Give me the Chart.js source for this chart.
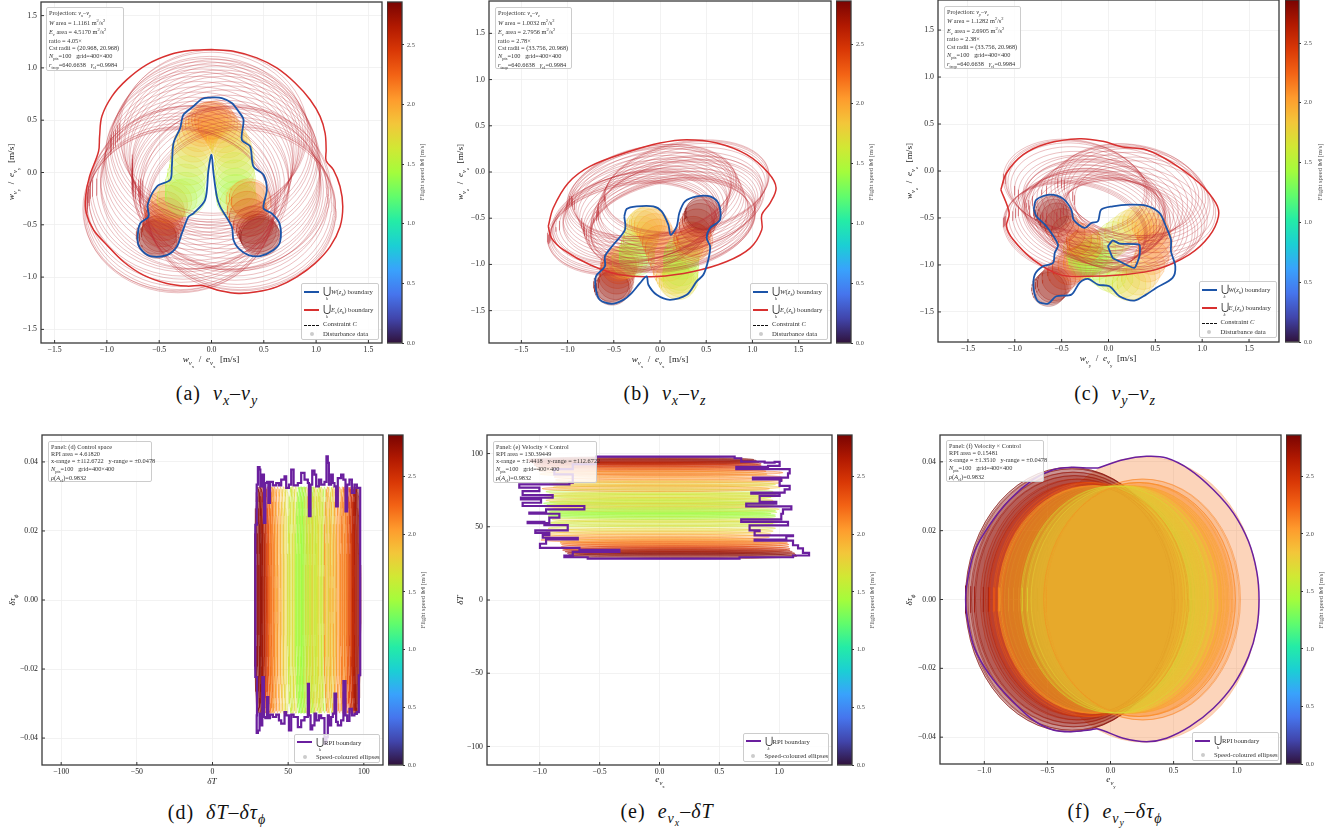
<!DOCTYPE html>
<html>
<head>
<title>Reachable sets</title>
<script src="https://cdn.jsdelivr.net/npm/chart.js"></script>
<style>
  body { margin: 0; background: #fff; font-family: "Liberation Serif", serif; color: #222; }
  canvas { position: absolute; }
  .t { position: absolute; white-space: nowrap; line-height: 1; }
  .t sub, .t sup { font-size: 72%; line-height: 0; }
  .cap { font-size: 20px; letter-spacing: 1px; color: #111; transform: translate(-50%, -50%); }
  .cap sub { font-size: 70%; }
  .ax { font-size: 9.2px; transform: translate(-50%, -50%); }
  .ay { font-size: 9.2px; transform: translate(-50%, -50%) rotate(-90deg); }
  .cb { font-size: 6.6px; color: #555; transform: translate(-50%, -50%) rotate(-90deg); }
  .box { position: absolute; background: rgba(255,255,255,.82); border: 1px solid #ccc; border-radius: 2px; box-sizing: border-box; font-size: 6.3px; color: #333; z-index: 5; }
  .box div { white-space: nowrap; position: absolute; left: 2.5px; line-height: 1; }
  .box sub, .box sup { font-size: 72%; line-height: 0; }
  .leg { font-size: 6.7px; }
  .leg .s { position: absolute; left: 2px; width: 15px; }
  .leg .d { position: absolute; left: 7.5px; width: 4px; height: 4px; border-radius: 50%; background: #ccc; }
  .leg .u { font-size: 10px; }
  .leg .k { font-size: 4.5px; }
</style>
</head>
<body>
<script>
const cx = [-.52,-.5,-.53,-.48,-.47,-.46,-.44,-.45,-.42,-.38,-.33,-.25,-.25,-.25,-.23,-.21,-.2,-.19,-.17,-.14,-.12,-.09,-.06,-.03,0,.03,.06,.09,.12,.15,.18,.2,.22,.22,.22,.23,.23,.23,.24,.27,.33,.36,.38,.34,.36,.4,.43,.45,.46,.47];
const cy = [-.64,-.62,-.6,-.58,-.53,-.47,-.42,-.36,-.3,-.27,-.25,-.24,-.18,-.1,-.02,.06,.14,.22,.28,.33,.38,.43,.46,.49,.5,.5,.46,.42,.37,.32,.27,.22,.15,.08,.01,-.06,-.14,-.2,-.26,-.3,-.26,-.24,-.27,-.36,-.43,-.5,-.55,-.58,-.6,-.62];
const cz = [-1.26,-1.24,-1.22,-1.2,-1.14,-1.08,-1.03,-1,-.98,-.97,-.96,-.94,-.9,-.84,-.78,-.72,-.66,-.6,-.57,-.55,-.55,-.58,-.63,-.69,-.76,-.83,-.92,-1,-1.08,-1.14,-1.19,-1.2,-1.17,-1.13,-1.1,-1.05,-.98,-.93,-.88,-.83,-.8,-.78,-.74,-.72,-.66,-.58,-.52,-.48,-.45,-.44];
const speed = [2.84,2.8,2.76,2.72,2.62,2.55,2.45,2.3,2.15,1.95,1.6,1.4,1.4,1.5,1.55,1.6,1.7,1.75,1.8,1.85,1.9,2,2.05,2.1,2.15,2.2,2.15,2.05,1.95,1.85,1.8,1.75,1.7,1.65,1.6,1.55,1.45,1.4,1.4,1.6,1.95,2.15,2.25,2.3,2.45,2.55,2.7,2.75,2.8,2.84];
// centres of the larger E_v ellipses
const exc = [-.32,-.31,-.33,-.3,-.29,-.29,-.27,-.28,-.26,-.24,-.2,-.16,-.16,-.16,-.14,-.13,-.12,-.12,-.11,-.09,-.07,-.06,-.04,-.02,0,.02,.04,.06,.07,.09,.11,.12,.14,.14,.14,.14,.14,.14,.15,.17,.2,.22,.24,.21,.22,.25,.27,.28,.29,.29];
const eyc = [-.37,-.36,-.35,-.34,-.31,-.27,-.24,-.21,-.17,-.15,-.14,-.14,-.1,-.06,-.01,.04,.09,.14,.18,.21,.25,.28,.31,.33,.37,.39,.3,.27,.24,.2,.17,.14,.09,.05,.01,-.04,-.09,-.12,-.15,-.17,-.15,-.14,-.16,-.21,-.25,-.29,-.32,-.34,-.35,-.37];
const ezc = [-.62,-.61,-.6,-.59,-.57,-.55,-.52,-.5,-.49,-.485,-.47,-.46,-.43,-.39,-.36,-.32,-.28,-.24,-.22,-.2,-.2,-.22,-.25,-.29,-.34,-.38,-.44,-.49,-.53,-.56,-.58,-.59,-.57,-.56,-.55,-.53,-.49,-.46,-.42,-.39,-.37,-.36,-.33,-.32,-.28,-.23,-.19,-.17,-.16,-.15];
// control and velocity-control panels
const dT = [95.8,95.2,94.6,94,93,92,91,89.5,88,86,70,59,66,74,52,79,49,72,47,68,45,64,43,76,41,87,84,82,80,77,62,55,53,71,67,60,57,58,61,65,40,39,38,36.5,35,34,33,32,31,30];
const evx = [-.16,-.14,-.14,-.12,-.1,-.1,-.08,-.08,-.06,-.05,-.02,-.02,-.02,0,0,.02,.02,.02,0,0,-.02,-.02,-.03,-.03,-.04,.08,.07,.08,.06,.06,.05,.05,.04,.04,.03,.03,.02,.02,.02,.01,.12,.12,.13,.13,.14,.14,.16,.18,.19,.2];
const evy = [-.32,-.31,-.3,-.29,-.27,-.24,-.21,-.18,-.15,-.14,-.13,-.12,-.09,-.05,-.01,.03,.07,.11,.14,.17,.19,.22,.23,.25,.26,.27,.23,.21,.19,.16,.14,.11,.08,.04,.01,-.03,-.07,-.1,-.13,-.15,-.13,-.12,-.14,-.18,-.22,-.25,-.28,-.29,-.3,-.32];
const evyRx = [.83,.83,.81,.79,.76,.75,.75,.74,.74,.74,.74,.74,.74,.74,.74,.74,.74,.74,.74,.75,.75,.75,.76,.77,.77,.905,.76,.75,.74,.74,.74,.74,.74,.74,.74,.74,.74,.74,.74,.74,.74,.74,.75,.75,.75,.76,.79,.81,.83,.83];
const evyRy = [.0384,.038,.037,.036,.035,.034,.034,.033,.033,.033,.033,.033,.033,.033,.033,.033,.033,.033,.033,.033,.033,.034,.034,.035,.035,.0415,.034,.034,.033,.033,.033,.033,.033,.033,.033,.033,.033,.033,.033,.033,.033,.033,.034,.034,.034,.035,.036,.037,.038,.0384];
// drawn last in panel f
const fTail = [43,33,24,16,8,32,41,15,26,31];

// boundaries
const wBoundA = [[0,.719],[.099,.712],[.194,.665],[.258,.585],[.306,.505],[.29,.313],[.369,.249],[.401,.058],[.497,-.022],[.529,-.166],[.497,-.342],[.576,-.39],[.65,-.486],[.656,-.661],[.592,-.741],[.465,-.799],[.354,-.789],[.258,-.725],[.21,-.645],[.194,-.518],[.083,-.326],[.051,-.23],[.019,-.006],[0,.169],[-.029,.026],[-.061,-.262],[-.172,-.39],[-.22,-.422],[-.283,-.581],[-.331,-.709],[-.427,-.789],[-.586,-.799],[-.682,-.725],[-.707,-.645],[-.682,-.486],[-.602,-.422],[-.611,-.31],[-.522,-.134],[-.395,-.07],[-.379,.058],[-.363,.281],[-.299,.425],[-.268,.553],[-.172,.633],[-.092,.703]];
const eBoundA = [[0,1.176],[.21,1.16],[.433,1.096],[.624,1],[.8,.856],[.943,.696],[1.038,.537],[1.086,.377],[1.096,.217],[1.096,.112],[1.166,.026],[1.229,-.134],[1.255,-.326],[1.229,-.518],[1.134,-.709],[.99,-.869],[.815,-.997],[.624,-1.093],[.433,-1.141],[.258,-1.157],[.083,-1.131],[-.076,-1.083],[-.236,-1.086],[-.427,-1.061],[-.65,-.981],[-.841,-.853],[-1,-.693],[-1.127,-.55],[-1.197,-.39],[-1.204,-.23],[-1.166,-.038],[-1.08,.201],[-1.07,.345],[-1.048,.537],[-.952,.728],[-.809,.888],[-.618,1.032],[-.395,1.128],[-.204,1.166]];
const wBoundB = [[-.386,-.48],[-.361,-.401],[-.253,-.372],[-.072,-.372],[.018,-.426],[.09,-.57],[.116,-.679],[.181,-.588],[.209,-.444],[.271,-.318],[.397,-.264],[.542,-.264],[.632,-.336],[.65,-.516],[.542,-.606],[.505,-.715],[.542,-.805],[.523,-.949],[.469,-1.112],[.397,-1.184],[.289,-1.329],[.108,-1.383],[-.036,-1.329],[-.126,-1.22],[-.144,-1.13],[-.217,-1.202],[-.307,-1.31],[-.397,-1.383],[-.523,-1.426],[-.65,-1.383],[-.693,-1.274],[-.693,-1.13],[-.596,-1.022],[-.596,-.913],[-.505,-.787],[-.379,-.625]];
const eBoundB = [[-1.209,-.588],[-1.155,-.39],[-.993,-.119],[-.758,.061],[-.325,.224],[0,.314],[.289,.35],[.614,.314],[.939,.188],[1.173,-.011],[1.256,-.173],[1.191,-.336],[1.101,-.462],[1.101,-.625],[.975,-.823],[.722,-.968],[.361,-1.076],[-.036,-1.13],[-.433,-1.112],[-.758,-1.004],[-1.047,-.841],[-1.173,-.715]];
const wBoundC = [[-.798,-.404],[-.77,-.305],[-.628,-.252],[-.486,-.294],[-.397,-.411],[-.372,-.518],[-.255,-.606],[-.184,-.553],[-.113,-.535],[-.078,-.411],[.046,-.376],[.223,-.358],[.401,-.369],[.543,-.447],[.613,-.589],[.667,-.73],[.667,-.855],[.713,-1.014],[.684,-1.138],[.507,-1.245],[.401,-1.316],[.277,-1.379],[.117,-1.333],[.011,-1.227],[-.113,-1.209],[-.22,-1.149],[-.309,-1.191],[-.397,-1.316],[-.557,-1.333],[-.645,-1.411],[-.752,-1.387],[-.798,-1.262],[-.787,-1.103],[-.699,-1.014],[-.592,-.979],[-.574,-.872],[-.539,-.784],[-.663,-.589],[-.77,-.482]];
const wHoleC = [[-.007,-.801],[.046,-.738],[.117,-.773],[.33,-.784],[.33,-.908],[.277,-1.032],[.117,-.961],[.046,-.926]];
const eBoundC = [[-1.149,-.199],[-1.089,-.021],[-.911,.174],[-.663,.291],[-.309,.344],[-.06,.316],[.152,.255],[.401,.227],[.684,.085],[.968,-.128],[1.145,-.34],[1.174,-.482],[1.074,-.695],[.862,-.89],[.507,-1.05],[.152,-1.103],[-.238,-1.121],[-.521,-1.103],[-.805,-.943],[-1.018,-.73],[-1.089,-.589],[-1.06,-.447]];
const rpiBoundD = [[28.3,0],[28.3,.0218],[29.4,.0223],[29.2,.0334],[30,.0385],[31.1,.0378],[31.6,.0329],[32.9,.0363],[34,.0223],[34.9,.0339],[36,.0342],[36.9,.0281],[38,.0342],[39.9,.0332],[42.1,.0339],[43.9,.0332],[45.4,.0349],[47.6,.0358],[48.7,.0325],[50.5,.0334],[52,.0378],[53.6,.0332],[56.4,.0339],[58.6,.0368],[60.8,.0349],[63,.0339],[63.7,.0243],[64.8,.0334],[65.9,.0375],[67.4,.0363],[68.5,.0329],[70.3,.0349],[71.8,.0334],[74,.0342],[75.3,.0416],[76.2,.0397],[76.9,.0334],[78.4,.0363],[79.5,.0339],[80.6,.0329],[81.7,.0271],[82.8,.0353],[85,.0363],[86.5,.0349],[87.9,.0257],[89,.0334],[90.5,.0349],[92.1,.031],[93.8,.0334],[95.4,.0325],[96.7,.0325],[97.6,.0218],[97.6,0],
  [97.6,-.0218],[96.7,-.0325],[95.4,-.033],[93.8,-.0334],[92.1,-.0315],[90.5,-.035],[89,-.0334],[87.9,-.0235],[86.5,-.0349],[85,-.0363],[82.8,-.0353],[81.7,-.0271],[80.6,-.0329],[79.5,-.0339],[78.4,-.0363],[76.9,-.0334],[76.2,-.0397],[75.3,-.0416],[74,-.0342],[71.8,-.0334],[70.3,-.0349],[68.5,-.0329],[67.4,-.0363],[65.9,-.0375],[64.8,-.0334],[63.7,-.0243],[63,-.0339],[60.8,-.0349],[58.6,-.0368],[56.4,-.0339],[53.6,-.0332],[52,-.0378],[50.5,-.0334],[48.7,-.0325],[47.6,-.0358],[45.4,-.0349],[43.9,-.0332],[42.1,-.0339],[39.9,-.0332],[38,-.0342],[36.9,-.0281],[36,-.0342],[34.9,-.0339],[34,-.0223],[32.9,-.0363],[31.6,-.0329],[31.1,-.0378],[30,-.0385],[29.2,-.0334],[29.4,-.0223],[28.3,-.0218]];
const rpiBoundE = [[.377,97.9],[.628,96.8],[.683,94.5],[.879,93.8],[.962,94.3],[1.004,91.6],[.907,90.9],[.642,89.3],[1.088,86.5],[1.074,83.6],[.781,82.4],[1.018,81.3],[1.004,77.9],[1.088,75.6],[1.046,73.3],[.767,72.6],[1.004,71],[.837,67.1],[.976,65.8],[.725,63.9],[1.102,61.9],[1.032,58.9],[1.018,55],[.683,53.4],[1.074,50.9],[.753,47.5],[.837,47],[.795,44.1],[1.116,43.6],[1.06,41.3],[.795,40.6],[1.116,37.4],[1.158,35.2],[1.199,32.2],[1.25,30.4],[1.116,29.2],[.669,28.3],[-.307,28.3],[-.6,29.2],[-.795,30.4],[-.725,32.9],[-.335,34.2],[-.669,35.6],[-.999,38.4],[-.948,41.3],[-.683,42.5],[-.976,44.3],[-.921,45.9],[-1.038,47.5],[-.767,51.1],[-.962,53.4],[-1.102,52.5],[-.921,56.2],[-.837,58.9],[-1.088,59.6],[-.948,61.9],[-.628,64.2],[-1.144,66.4],[-.99,68.7],[-1.158,69.9],[-.893,71.7],[-1.144,74.4],[-1.004,76.7],[-1.172,79],[-.753,80.1],[-.725,85.8],[-.879,89.3],[-.725,92.7],[-.53,97.9]];
const rpiBoundF = [[-.098,.0382],[.101,.0406],[.286,.0416],[.444,.0411],[.63,.0377],[.815,.0319],[.974,.0251],[1.093,.0169],[1.159,.0081],[1.177,0],[1.159,-.0083],[1.093,-.0166],[.974,-.0248],[.815,-.0316],[.63,-.0369],[.444,-.0403],[.286,-.0413],[.101,-.0403],[-.098,-.0376],[-.164,-.0379],[-.31,-.0384],[-.455,-.0379],[-.614,-.035],[-.799,-.0287],[-.958,-.0219],[-1.077,-.0142],[-1.13,-.0064],[-1.148,0],[-1.13,.0062],[-1.077,.014],[-.958,.0217],[-.799,.029],[-.614,.0348],[-.455,.0377],[-.31,.0384],[-.164,.0382]];

const cbarMax = 2.86;
const cbarTicks = [0, .5, 1, 1.5, 2, 2.5];
// turbo colormap samples
const turboStops = ['#30123b','#4145ab','#4675ed','#39a2fc','#1bcfd4','#24eca6','#61fc6c','#a4fc3c','#d1e834','#f3c63a','#fe9b2d','#f36315','#d93806','#b11901','#7a0402'];

function hexRgb(h) { return [1, 3, 5].map(i => parseInt(h.slice(i, i + 2), 16)); }
function turbo(s, a) {
  const p = Math.min(Math.max(s / cbarMax, 0), 1) * (turboStops.length - 1);
  const i = Math.min(Math.floor(p), turboStops.length - 2), f = p - i;
  const c0 = hexRgb(turboStops[i]), c1 = hexRgb(turboStops[i + 1]);
  const c = c0.map((v, k) => Math.round(v + (c1[k] - v) * f));
  return `rgba(${c[0]},${c[1]},${c[2]},${a})`;
}
// outline of one ellipse, closed
function ellipse(x0, y0, rx, ry, tilt) {
  const pts = [], ct = Math.cos(tilt || 0), st = Math.sin(tilt || 0);
  for (let i = 0; i <= 60; i++) {
    const a = i / 60 * 2 * Math.PI, u = rx * Math.cos(a), v = ry * Math.sin(a);
    pts.push({ x: x0 + u * ct - v * st, y: y0 + u * st + v * ct });
  }
  return pts;
}
function ring(data, color, width) {
  return { data, showLine: true, pointRadius: 0, borderColor: color, borderWidth: width, backgroundColor: 'transparent', fill: false, tension: 0 };
}
function blob(data, s, fillA, lineA, width) {
  return { data, showLine: true, pointRadius: 0, borderColor: turbo(s, lineA), borderWidth: width, backgroundColor: turbo(s, fillA), fill: 'shape', tension: 0 };
}
function outline(pairs, color, width, tension, stepped) {
  const data = pairs.map(p => ({ x: p[0], y: p[1] }));
  data.push(data[0]);
  return Object.assign(ring(data, color, width), { tension: tension || 0, stepped: stepped || false });
}
const RED = '#d8302f', BLUE = '#1c54a8', PURPLE = '#6a1f9e', ERING = 'rgba(190,48,52,.3)';

function setA() {
  const out = [];
  cx.forEach((v, i) => out.push(blob(ellipse(v, cy[i], .19, .18), speed[i], .18, .42, .7)));
  exc.forEach((v, i) => out.push(ring(ellipse(v, eyc[i], .9, .78), ERING, 1)));
  out.push(outline(eBoundA, RED, 1.5, .35), outline(wBoundA, BLUE, 1.8, .3));
  return out;
}
function setB() {
  const out = [];
  cx.forEach((v, i) => out.push(blob(ellipse(v, cz[i], .19, .18), speed[i], .18, .42, .7)));
  exc.forEach((v, i) => out.push(ring(ellipse(v, ezc[i], .9, .48, .18), ERING, 1)));
  out.push(outline(eBoundB, RED, 1.5, .35), outline(wBoundB, BLUE, 1.8, .3));
  return out;
}
function setC() {
  const out = [];
  cy.forEach((v, i) => out.push(blob(ellipse(v, cz[i], .18, .18), speed[i], .18, .42, .7)));
  eyc.forEach((v, i) => out.push(ring(ellipse(v, ezc[i], .76, .48, -.16), ERING, 1)));
  out.push(outline(eBoundC, RED, 1.5, .35), outline(wBoundC, BLUE, 1.8, .3), outline(wHoleC, BLUE, 1.8, .15));
  return out;
}
function setD() {
  const out = dT.map((v, i) => blob(ellipse(v, 0, 2.4, .0328), speed[i], .3, .55, .8));
  out.push(outline(rpiBoundD, PURPLE, 2.2, 0, true));
  return out;
}
function setE() {
  const out = evx.map((v, i) => blob(ellipse(v, dT[i], .95, 2), speed[i], .3, .55, .8));
  out.push(outline(rpiBoundE, PURPLE, 2.2, 0, true));
  return out;
}
function setF() {
  // big peach ellipse goes underneath, then a mixed drawing order, fTail on top
  const big = speed.map((s, i) => i).filter(i => evyRx[i] > .9);
  const mixed = speed.map((s, i) => (i * 17 + 10) % 50).filter(i => evyRx[i] <= .9 && !fTail.includes(i));
  const order = mixed.concat(fTail);
  const out = big.map(i => blob(ellipse(evy[i], 0, evyRx[i], evyRy[i]), speed[i], .3, .3, .8));
  order.forEach(i => out.push(blob(ellipse(evy[i], 0, evyRx[i], evyRy[i]), speed[i], .13, .5, .9)));
  out.push(outline(rpiBoundF, PURPLE, 1.5, .35));
  return out;
}

const panels = [
  { id: 'a', L: 41, T: 2, W: 341, H: 341, cb: [387, 2, 15, 341], xr: 1.63, yr: 1.63, xs: .5, ys: .5, xd: 1, yd: 1, sets: setA },
  { id: 'b', L: 489, T: 1, W: 342, H: 342, cb: [836, 1, 15, 342], xr: 1.85, yr: 1.85, xs: .5, ys: .5, xd: 1, yd: 1, sets: setB },
  { id: 'c', L: 938, T: 0, W: 341, H: 342, cb: [1285, 0, 14, 342], xr: 1.82, yr: 1.82, xs: .5, ys: .5, xd: 1, yd: 1, sets: setC },
  { id: 'd', L: 42, T: 435, W: 341, H: 330, cb: [388, 435, 15, 330], xr: 112.67, yr: .0478, xs: 50, ys: .02, xd: 0, yd: 2, sets: setD },
  { id: 'e', L: 487, T: 435, W: 345, H: 330, cb: [837, 435, 15, 330], xr: 1.4418, yr: 112.67, xs: .5, ys: 50, xd: 1, yd: 0, sets: setE },
  { id: 'f', L: 940, T: 435, W: 341, H: 329, cb: [1286, 435, 15, 329], xr: 1.351, yr: .0478, xs: .5, ys: .02, xd: 1, yd: 2, sets: setF }
];

Chart.defaults.font.family = '"Liberation Serif", serif';
Chart.defaults.color = '#222';

function addCanvas(l, t, w, h) {
  const c = document.createElement('canvas');
  c.width = w; c.height = h;
  c.style.left = l + 'px'; c.style.top = t + 'px';
  c.style.width = w + 'px'; c.style.height = h + 'px';
  document.body.appendChild(c);
  return c;
}
function fmt(v, d) { return Number(v).toFixed(d).replace('-', '\u2212'); }
function noPad(s) { s.paddingTop = s.paddingBottom = s.paddingLeft = s.paddingRight = 0; }

// inward ticks and the dark frame
const framePlugin = {
  id: 'frame',
  afterDraw(chart) {
    const { ctx, chartArea: a, scales } = chart;
    ctx.save();
    ctx.strokeStyle = '#333'; ctx.lineWidth = 1;
    ctx.beginPath();
    if (scales.x.options.display) {
      scales.x.ticks.forEach(t => { const p = scales.x.getPixelForValue(t.value); ctx.moveTo(p, a.bottom); ctx.lineTo(p, a.bottom - 3); });
      scales.y.ticks.forEach(t => { const p = scales.y.getPixelForValue(t.value); ctx.moveTo(a.left, p); ctx.lineTo(a.left + 3, p); });
    }
    ctx.stroke();
    ctx.strokeStyle = '#3a3a3a'; ctx.lineWidth = 1.3;
    ctx.strokeRect(a.left, a.top, a.right - a.left, a.bottom - a.top);
    ctx.restore();
  }
};

function axis(range, step, digits, side, size) {
  return {
    type: 'linear', position: side, min: -range, max: range,
    afterFit(s) { if (side === 'left') s.width = size; else s.height = size; noPad(s); },
    grid: { color: '#efefef', lineWidth: .8, drawTicks: false },
    border: { display: false },
    ticks: { stepSize: step, includeBounds: false, autoSkip: false, maxRotation: 0, padding: side === 'left' ? 4 : 2, font: { size: 7.8 }, color: '#222', callback: v => fmt(v, digits) }
  };
}

panels.forEach(p => {
  const M = { l: 44, t: 2, r: 4, b: 24 };
  const c = addCanvas(p.L - M.l, p.T - M.t, p.W + M.l + M.r, p.H + M.t + M.b);
  new Chart(c, {
    type: 'scatter',
    // first dataset is drawn on top in Chart.js
    data: { datasets: p.sets().reverse() },
    options: {
      responsive: false, animation: false, events: [],
      layout: { padding: { top: M.t, right: M.r, left: 0, bottom: 0 } },
      plugins: { legend: { display: false }, tooltip: { enabled: false } },
      scales: { x: axis(p.xr, p.xs, p.xd, 'bottom', M.b), y: axis(p.yr, p.ys, p.yd, 'left', M.l) }
    },
    plugins: [framePlugin]
  });

  // colour bar
  const [bl, bt, bw, bh] = p.cb, pad = 6;
  const cc = addCanvas(bl, bt - pad, bw + 26, bh + 2 * pad);
  new Chart(cc, {
    type: 'bar',
    data: { labels: ['speed'], datasets: [{
      data: [[0, cbarMax]], barPercentage: 1, categoryPercentage: 1,
      backgroundColor(ctx) {
        const a = ctx.chart.chartArea;
        if (!a) return turboStops[0];
        const g = ctx.chart.ctx.createLinearGradient(0, a.bottom, 0, a.top);
        turboStops.forEach((s, i) => g.addColorStop(i / (turboStops.length - 1), s));
        return g;
      }
    }] },
    options: {
      responsive: false, animation: false, events: [],
      layout: { padding: { top: pad, bottom: pad, left: 0, right: 0 } },
      plugins: { legend: { display: false }, tooltip: { enabled: false } },
      scales: {
        x: { display: false },
        y: {
          position: 'right', min: 0, max: cbarMax,
          afterFit(s) { s.width = 26; noPad(s); },
          afterBuildTicks(s) { s.ticks = cbarTicks.map(v => ({ value: v })); },
          grid: { display: true, drawOnChartArea: false, tickLength: 2, color: '#333' },
          border: { display: false },
          ticks: { padding: 3, font: { size: 6.2 }, color: '#444', autoSkip: false, callback: v => fmt(v, 1) }
        }
      }
    },
    plugins: [framePlugin]
  });
});

// text helpers
function put(x, y, html, cls) {
  const d = document.createElement('div');
  d.className = 't ' + cls;
  d.style.left = x + 'px'; d.style.top = y + 'px';
  d.innerHTML = html;
  document.body.appendChild(d);
}
function box(l, t, r, b, cls, inner) {
  const d = document.createElement('div');
  d.className = 'box ' + cls;
  d.style.left = l + 'px'; d.style.top = t + 'px';
  d.style.width = (r - l) + 'px'; d.style.height = (b - t) + 'px';
  d.innerHTML = inner;
  document.body.appendChild(d);
}
function lines(rows) { return rows.map(r => `<div style="top:${r[0]}px">${r[1]}</div>`).join(''); }

const lbl = (a, b) => `<i>${a}</i><sub><i>v</i><sub>${b}</sub></sub>`;
const pair = (a, b) => `${lbl('w', a)} &nbsp;/&nbsp; ${lbl('e', a)} &nbsp;[m/s]`;
const cbTitle = 'Flight speed <b>\u2016<i>v</i>\u2016</b> [m/s]';

// captions
put(217, 393, '(a)&nbsp; <i>v<sub>x</sub></i>\u2013<i>v<sub>y</sub></i>', 'cap');
put(665, 393, '(b)&nbsp; <i>v<sub>x</sub></i>\u2013<i>v<sub>z</sub></i>', 'cap');
put(1115, 393, '(c)&nbsp; <i>v<sub>y</sub></i>\u2013<i>v<sub>z</sub></i>', 'cap');
put(217, 812, '(d)&nbsp; <i>\u03b4T</i>\u2013<i>\u03b4\u03c4<sub>\u03d5</sub></i>', 'cap');
put(667, 812, '(e)&nbsp; <i>e<sub>v<sub>x</sub></sub></i>\u2013<i>\u03b4T</i>', 'cap');
put(1115, 812, '(f)&nbsp; <i>e<sub>v<sub>y</sub></sub></i>\u2013<i>\u03b4\u03c4<sub>\u03d5</sub></i>', 'cap');

// axis labels
put(211, 361, pair('x'), 'ax'); put(13, 172, pair('y'), 'ay');
put(660, 361, pair('x'), 'ax'); put(462, 172, pair('z'), 'ay');
put(1108, 360, pair('y'), 'ax'); put(911, 171, pair('z'), 'ay');
put(212, 782, '<i>\u03b4T</i>', 'ax'); put(13, 600, '<i>\u03b4\u03c4<sub>\u03d5</sub></i>', 'ay');
put(660, 781, lbl('e', 'x'), 'ax'); put(461, 600, '<i>\u03b4T</i>', 'ay');
put(1111, 781, lbl('e', 'y'), 'ax'); put(910, 600, '<i>\u03b4\u03c4<sub>\u03d5</sub></i>', 'ay');

// colour bar labels
[[422, 172], [871, 172], [1320, 172], [423, 600], [872, 600], [1321, 600]].forEach(q => put(q[0], q[1], cbTitle, 'cb'));

// info boxes
function infoTop(proj, w, e, ratio, cst) {
  return lines([
    [2, `Projection: <i>v<sub>${proj[0]}</sub></i>\u2013<i>v<sub>${proj[1]}</sub></i>`],
    [11.5, `<i>W</i> area = ${w} m<sup>2</sup>/s<sup>2</sup>`],
    [21, `<i>E<sub>v</sub></i> area = ${e} m<sup>2</sup>/s<sup>2</sup>`],
    [29.5, `ratio = ${ratio}\u00d7`],
    [37, `Cst radii = (${cst}, 20.968)`],
    [45, '<i>N</i><sub>pts</sub>=100 &nbsp; grid=400\u00d7400'],
    [54, '<i>r</i><sub>trop</sub>=640.6638 &nbsp; <i>\u03b3</i><sub>cl</sub>=0.9984']
  ]);
}
function infoBot(title, area, xr, yr) {
  return lines([
    [2, title], [9, `RPI area = ${area}`], [16, `x-range = \u00b1${xr} &nbsp; y-range = \u00b1${yr}`],
    [24, '<i>N</i><sub>pts</sub>=100 &nbsp; grid=400\u00d7400'], [33, '<i>\u03c1</i>(<i>A</i><sub>cl</sub>)=0.9832']
  ]);
}
box(45.5, 7, 123.5, 70.5, '', infoTop('xy', '1.1161', '4.5170', '4.05', '20.968'));
box(494.5, 7, 571.5, 69, '', infoTop('xz', '1.0032', '2.7956', '2.78', '33.756'));
box(943.5, 5.5, 1021, 69, '', infoTop('yz', '1.1282', '2.6905', '2.38', '33.756'));
box(47.5, 440.5, 151.5, 481.5, '', infoBot('Panel: (d) Control space', '4.61820', '112.6722', '0.0478'));
box(492.5, 440.5, 597, 482.5, '', infoBot('Panel: (e) Velocity \u00d7 Control', '130.39449', '1.4418', '112.6722'));
box(945.5, 440, 1043.5, 482, '', infoBot('Panel: (f) Velocity \u00d7 Control', '0.15481', '1.3510', '0.0478'));

// legends
function union(y, body) {
  return `<div style="top:${y - 5}px;left:21px"><span class="u">\u22c3</span>${body}</div><div class="k" style="top:${y + 6}px;left:24px"><i>k</i></div>`;
}
function sample(y, color, dash) {
  return dash ? `<span class="s" style="top:${y}px;border-top:1px dashed ${color}"></span>`
              : `<span class="s" style="top:${y}px;height:2px;background:${color}"></span>`;
}
function legTop() {
  return sample(6.5, BLUE) + union(7, '<i>W</i>(<i>z<sub>k</sub></i>) boundary') +
    sample(24.5, RED) + union(25, '<i>E<sub>v</sub></i>(<i>z<sub>k</sub></i>) boundary') +
    sample(40.5, '#111', true) + `<div style="top:37px;left:21px">Constraint <i>C</i></div>` +
    `<span class="d" style="top:48px"></span><div style="top:47px;left:21px">Disturbance data</div>`;
}
function legBot() {
  return sample(6.5, PURPLE) + union(7, 'RPI boundary') +
    `<span class="d" style="top:20px"></span><div style="top:19px;left:21px">Speed-coloured ellipses</div>`;
}
box(301, 283, 378.5, 339.5, 'leg', legTop());
box(750, 283, 827.5, 339.5, 'leg', legTop());
box(1198.5, 281, 1276.5, 338, 'leg', legTop());
box(294, 733.5, 380, 762.5, 'leg', legBot());
box(742.5, 732.5, 829, 761.5, 'leg', legBot());
box(1192, 732, 1278.5, 760.5, 'leg', legBot());
</script>
</body>
</html>
